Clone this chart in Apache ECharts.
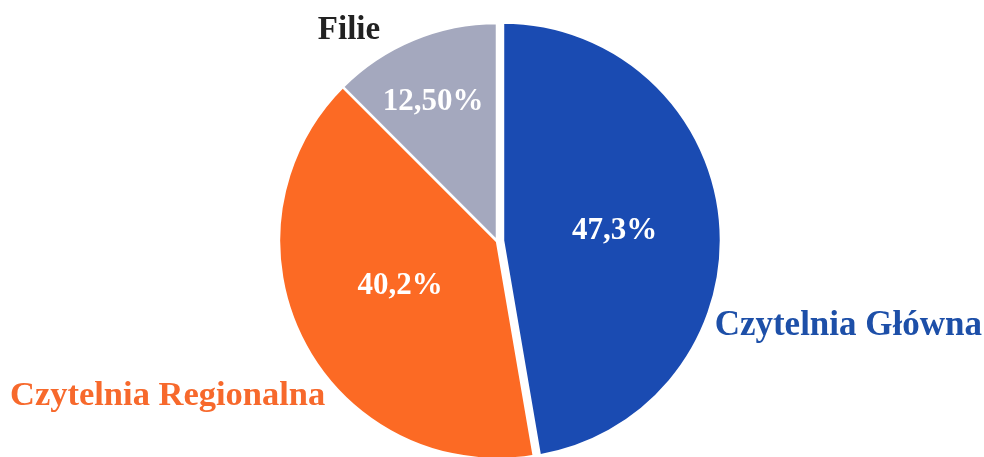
<!DOCTYPE html>
<html>
<head>
<meta charset="utf-8">
<script src="https://cdn.jsdelivr.net/npm/echarts@6/dist/echarts.min.js"></script>
<style>
html,body{margin:0;padding:0;background:#fff;}
#c{width:984px;height:457px;}
</style>
</head>
<body>
<div id="c"></div>
<script>
var categories = ['Czytelnia Główna', 'Czytelnia Regionalna', 'Filie'];
var values = [47.3, 40.2, 12.5];
var valueLabels = ['47,3%', '40,2%', '12,50%'];
var colors = ['#1a4bb2', '#fc6a24', '#a4a8be'];
var nameColors = ['#1d4fa8', '#f7692c', '#222222'];
var nameSizes = [35, 34.5, 33];

var chart = echarts.init(document.getElementById('c'), null, {renderer: 'canvas'});
var font = '"Liberation Serif", "Times New Roman", serif';

var dataMain = categories.map(function (n, i) {
  return {
    name: n, value: values[i], selected: i === 0,
    itemStyle: {color: colors[i]}
  };
});
var dataNames = categories.map(function (n, i) {
  return {
    name: n, value: values[i], selected: i === 0,
    label: {color: nameColors[i], fontSize: nameSizes[i]}
  };
});

var insidePos = {0: [609, 232], 1: [400, 286], 2: [433, 102]};
var namePos = {
  0: {x: 982, y: 326, align: 'right'},
  1: {x: 10, y: 396, align: 'left'},
  2: {x: 349, y: 30, align: 'center'}
};

chart.setOption({
  backgroundColor: '#fff',
  animation: false,
  series: [
    {
      type: 'pie',
      center: [497, 241],
      radius: [0, 218],
      startAngle: 90,
      clockwise: true,
      selectedMode: 'single',
      selectedOffset: 6,
      data: dataMain,
      itemStyle: {borderColor: '#fff', borderWidth: 2.5},
      emphasis: {disabled: true},
      label: {
        show: true,
        position: 'inside',
        color: '#fff',
        fontFamily: font,
        fontWeight: 'bold',
        fontSize: 31,
        overflow: 'none',
        formatter: function (p) { return valueLabels[p.dataIndex]; }
      },
      labelLine: {show: false},
      labelLayout: function (p) {
        var pos = insidePos[p.dataIndex];
        return {x: pos[0], y: pos[1], align: 'center', verticalAlign: 'middle'};
      }
    },
    {
      type: 'pie',
      center: [497, 241],
      radius: [0, 218],
      startAngle: 90,
      clockwise: true,
      silent: true,
      data: dataNames,
      itemStyle: {color: 'rgba(0,0,0,0)', borderWidth: 0},
      emphasis: {disabled: true},
      label: {
        show: true,
        position: 'inside',
        overflow: 'none',
        width: 400,
        fontFamily: font,
        fontWeight: 'bold',
        fontSize: 33,
        formatter: '{b}'
      },
      labelLine: {show: false},
      labelLayout: function (p) {
        var pos = namePos[p.dataIndex];
        return {x: pos.x, y: pos.y, align: pos.align, verticalAlign: 'middle'};
      }
    }
  ]
});
</script>
</body>
</html>
